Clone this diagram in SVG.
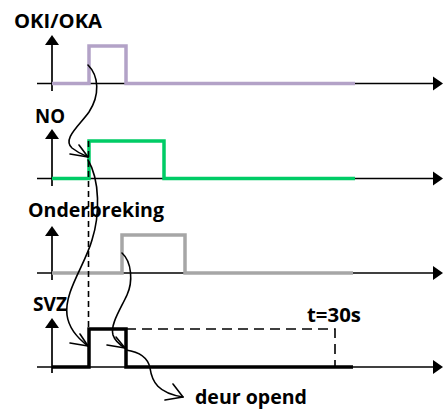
<svg xmlns="http://www.w3.org/2000/svg" width="446" height="410" viewBox="0 0 446 410">
<style>
  .lbl { font-family: "Open Sans", "Liberation Sans", sans-serif; font-weight: 700; font-size: 19px; fill: #000; }
  .axis { stroke: #000; stroke-width: 1.7; fill: none; }
  .sig { fill: none; stroke-width: 3.5; stroke-linejoin: miter; }
  .dash { stroke: #000; stroke-width: 1.6; fill: none; }
  .conn { stroke: #000; stroke-width: 1.6; fill: none; stroke-linecap: round; stroke-linejoin: round; }
  .ah { fill: #000; stroke: none; }
</style>
<rect width="446" height="410" fill="#fff"/>

<g id="oki">
  <text class="lbl" x="14" y="28" textLength="88" lengthAdjust="spacingAndGlyphs">OKI/OKA</text>
  <line class="axis" x1="52" y1="44" x2="52" y2="91"/>
  <polygon class="ah" points="52,35 45,45 59,45"/>
  <line class="axis" x1="37" y1="83.5" x2="433" y2="83.5"/>
  <polygon class="ah" points="443,83.5 433,76.5 433,90.5"/>
  <path class="sig" stroke="#B3A2C7" d="M52,83.5 H89 V46 H126 V83.5 H355"/>
</g>

<g id="no">
  <text class="lbl" x="35" y="123" textLength="30" lengthAdjust="spacingAndGlyphs">NO</text>
  <line class="axis" x1="52" y1="138" x2="52" y2="186"/>
  <polygon class="ah" points="52,129 45,139 59,139"/>
  <line class="axis" x1="37" y1="178.5" x2="433" y2="178.5"/>
  <polygon class="ah" points="443,178.5 433,171.5 433,185.5"/>
  <path class="sig" stroke="#00CC66" d="M52,178.5 H89 V141 H164 V178.5 H355"/>
</g>

<g id="onderbreking">
  <text class="lbl" x="28" y="217" textLength="136" lengthAdjust="spacingAndGlyphs">Onderbreking</text>
  <line class="axis" x1="52" y1="235" x2="52" y2="280"/>
  <polygon class="ah" points="52,226 45,236 59,236"/>
  <line class="axis" x1="37" y1="273" x2="433" y2="273"/>
  <polygon class="ah" points="443,273 433,266 433,280"/>
  <path class="sig" stroke="#A6A6A6" d="M52,273 H122 V235 H185 V273 H353"/>
</g>

<g id="svz">
  <text class="lbl" x="33" y="311" textLength="34" lengthAdjust="spacingAndGlyphs">SVZ</text>
  <line class="axis" x1="52" y1="327" x2="52" y2="373"/>
  <polygon class="ah" points="52,318 45,328 59,328"/>
  <line class="axis" x1="37" y1="367" x2="433" y2="367"/>
  <polygon class="ah" points="443,367 433,360 433,374"/>
  <path class="sig" stroke="#000" d="M52,367 H89 V329 H126 V367 H353"/>
  <path class="dash" stroke-dasharray="10,6" d="M126,329 H335 V367"/>
  <text class="lbl" x="307" y="322" textLength="54" lengthAdjust="spacingAndGlyphs">t=30s</text>
</g>

<g id="deur-opend">
  <text class="lbl" x="195" y="404" textLength="112" lengthAdjust="spacingAndGlyphs">deur opend</text>
</g>

<g id="connectors">
  <line class="dash" stroke-dasharray="6,4" x1="88.5" y1="141" x2="88.5" y2="329"/>
  <path class="conn" d="M88,65 C99,76 100,95 89,112 C79,126 62,139 72,148 C77,152 83,155 88,157"/>
  <path class="conn" d="M70,154 L88,157 L79,145"/>
  <path class="conn" d="M88,160 C100,180 100,215 92,240 C85,265 64,292 67,315 C69,330 80,340 88,346"/>
  <path class="conn" d="M70,343 L88,346 L80,334"/>
  <path class="conn" d="M122,253 C132,262 133,282 127,295 C120,310 110,325 113,335 C115,341 120,345 125,348"/>
  <path class="conn" d="M107,345 L125,348 L116,337"/>
  <path class="conn" d="M126,350 C140,352 148,358 150,368 C152,382 158,393 183,397"/>
  <path class="conn" d="M165,400 L183,397 L173,384"/>
</g>
</svg>
